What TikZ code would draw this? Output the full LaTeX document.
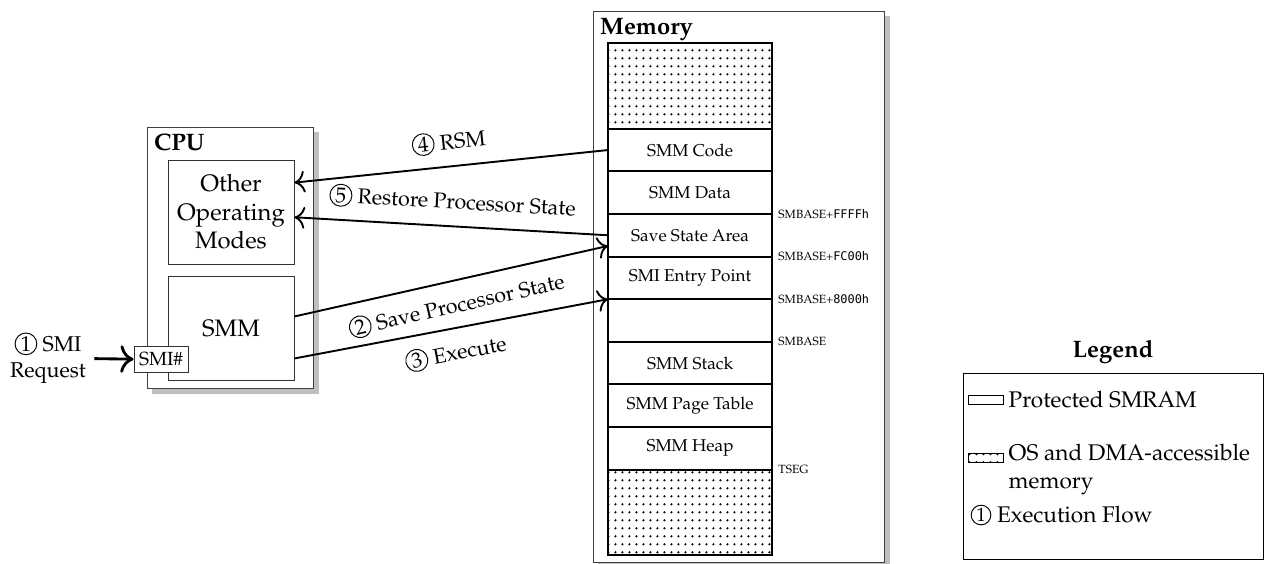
\documentclass[tikz,border=0pt]{standalone}
\usepackage{fontspec}
\newfontfamily\hexfont{DejaVu Sans Mono}
\usepackage[T1]{fontenc}
\usepackage{mathpazo}
\usetikzlibrary{positioning,calc,patterns.meta,shadows,arrows.meta}

\newcommand{\stepno}[1]{\tikz[baseline=(s.base)]\node[draw,thin,circle,inner sep=0.5pt](s){#1};}

\tikzdeclarepattern{
  name=memdots,
  type=uncolored,
  bottom left={(0pt,0pt)},
  top right={(3.1pt,3.4pt)},
  tile size={(3.1pt,3.4pt)},
  code={\fill (1.55pt,1.7pt) circle[radius=0.55pt];}
}

\begin{document}
\begin{tikzpicture}[x=0.42pt,y=-0.42pt,
  box/.style={draw=black!75,thin,fill=white,
    drop shadow={shadow xshift=2.1pt,shadow yshift=-2.1pt,fill=black!25,opacity=1}},
  part/.style={draw=black!80,thin,minimum width=52.9pt,minimum height=43.7pt,align=center},
  cell/.style={draw,thick,minimum width=68.9pt,minimum height=17.9pt,inner sep=0pt,outer sep=0pt,
    font=\fontsize{7.2}{8.5}\selectfont},
  open/.style={cell,pattern=memdots,minimum height=36pt},
  addr/.style={font=\tiny,inner sep=0pt,right=2.5pt of #1},
  flow/.style={-{To[scale=1.3]},thick},
  keytxt/.style={inner sep=0pt,font=\fontsize{9.5}{12}\selectfont},
  title/.style={font=\bfseries,inner sep=0pt,anchor=north west}]
\useasboundingbox (0,0) rectangle (1264,563);

% cpu side
\node[box,minimum width=70.1pt,minimum height=110pt] (cpu) at (230.5,258) {};
\node[title] (cpulbl) at ([xshift=3pt,yshift=-3pt]cpu.north west) {CPU};
\node[part] (other) at (231,212) {Other\\Operating\\Modes};
\node[part] (smm) at (231,328) {SMM};
\node[draw=black!80,thin,fill=white,font=\footnotesize,minimum width=22.7pt,minimum height=11.3pt,inner sep=1pt] (smi) at (161,359.5) {SMI\#};
\node[align=center,font=\small] (req) at (48,358) {\stepno{1} SMI\\Request};
\draw[flow,very thick] (req) -- (smi);

% memory map
\node[box,minimum width=122.6pt,minimum height=231.4pt] (mem) at (739,286.5) {};
\node[title] (memlbl) at ([xshift=3pt,yshift=-3pt]mem.north west) {Memory};
\node[open,anchor=north west] (top) at (608,43) {};
\node[cell,below=0pt of top] (code) {SMM Code};
\node[cell,below=0pt of code] (data) {SMM Data};
\node[cell,below=0pt of data] (save) {Save State Area};
\node[cell,below=0pt of save] (entry) {SMI Entry Point};
\node[cell,below=0pt of entry] (gap) {};
\node[cell,below=0pt of gap] (stack) {SMM Stack};
\node[cell,below=0pt of stack] (pgtbl) {SMM Page Table};
\node[cell,below=0pt of pgtbl] (heap) {SMM Heap};
\node[open,below=0pt of heap] (bottom) {};

\node[addr=data.south east] (ffff) {SMBASE+{\hexfont FFFFh}};
\node[addr=save.south east] (fc00) {SMBASE+{\hexfont FC00h}};
\node[addr=entry.south east] (x8000) {SMBASE+{\hexfont 8000h}};
\node[addr=gap.south east] (smbase) {SMBASE};
\node[addr=heap.south east] (tseg) {TSEG};

% execution flow
\draw[flow] (code.west) -- ($(other.north east)!0.22!(other.south east)$)
  node[midway,sloped,above=2pt,font=\small] (rsm) {\stepno{4} RSM};
\draw[flow] (save.west) -- ($(other.north east)!0.55!(other.south east)$)
  node[midway,sloped,above=2pt,font=\small] (restore) {\stepno{5} Restore Processor State};
\draw[flow] ($(smm.north east)!0.39!(smm.south east)$) -- ($(save.north west)!0.75!(save.south west)$)
  node[midway,sloped,below=2pt,font=\small] (savest) {\stepno{2} Save Processor State};
\draw[flow] ($(smm.north east)!0.79!(smm.south east)$) -- (entry.south west)
  node[midway,sloped,below=2pt,font=\small] (exec) {\stepno{3} Execute};

% legend
\node[font=\bfseries] (legtitle) at (1113,352) {Legend};
\node[draw,thin,minimum width=126pt,minimum height=78.5pt] (legend) at (1113,466.5) {};
\node[draw,thin,minimum width=14.7pt,minimum height=3.4pt,inner sep=0pt] (keysmram) at (985.5,400) {};
\node[keytxt,right=2pt of keysmram] (keysmramtxt) {Protected SMRAM};
\node[draw,thin,pattern=memdots,minimum width=14.7pt,minimum height=3.4pt,inner sep=0pt] (keyos) at (985.5,458) {};
\node[keytxt,right=2pt of keyos.north east,anchor=north west,align=left,yshift=4.3pt] (keyostxt) {OS and DMA-accessible\\memory};
\node[inner sep=0pt,font=\footnotesize] (keyflow) at (981,515) {\stepno{1}};
\node[keytxt,right=2pt of keyflow] (keyflowtxt) {Execution Flow};
\end{tikzpicture}
\end{document}
